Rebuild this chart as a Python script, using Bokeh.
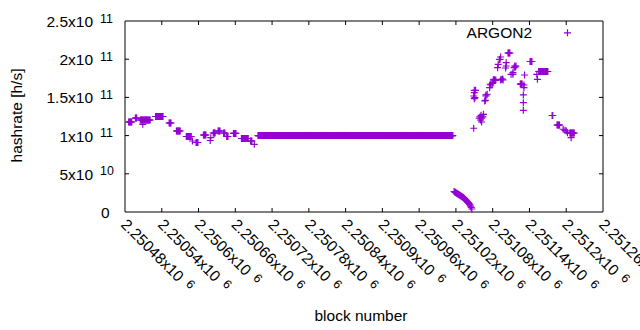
import math
import numpy as np
from bokeh.plotting import figure
from bokeh.models import Range1d, Label
from bokeh.embed import file_html
from bokeh.resources import INLINE

# ---------------- data ----------------
# runs of consecutive blocks that share one hashrate value
run_start = [2250486, 2250497, 2250505, 2250530, 2250552, 2250564, 2250580, 2250596,
             2250608, 2250624, 2250632, 2250641, 2250646, 2250657, 2250670, 2250685,
             2250697, 2251105, 2251125, 2251141, 2251155, 2251177, 2251185, 2251206]
run_end = [2250491, 2250499, 2250521, 2250542, 2250555, 2250570, 2250588, 2250599,
           2250612, 2250627, 2250635, 2250643, 2250648, 2250661, 2250681, 2250687,
           2251015, 2251108, 2251128, 2251144, 2251170, 2251178, 2251189, 2251213]
run_value = [1.178e11, 1.230e11, 1.204e11, 1.250e11, 1.165e11, 1.060e11, 0.988e11, 0.910e11,
             1.008e11, 1.034e11, 1.060e11, 1.034e11, 0.988e11, 1.028e11, 0.962e11, 0.929e11,
             1.000e11, 2.081e11, 1.675e11, 1.970e11, 1.839e11, 1.263e11, 1.139e11, 1.034e11]

# falling segment after the flat period
curve_block = list(range(2251017, 2251047))
curve_value = [2.68e10, 2.63e10, 2.58e10, 2.53e10, 2.47e10, 2.42e10, 2.37e10, 2.32e10,
               2.27e10, 2.21e10, 2.16e10, 2.11e10, 2.06e10, 2.01e10, 1.95e10, 1.90e10,
               1.82e10, 1.74e10, 1.65e10, 1.57e10, 1.49e10, 1.40e10, 1.32e10, 1.24e10,
               1.13e10, 1.02e10, 0.92e10, 0.75e10, 0.59e10, 0.39e10]

# individual blocks
single_block = [2250509, 2250590, 2250619, 2250620, 2250691,
                2251049, 2251049, 2251050, 2251050, 2251050, 2251051, 2251052,
                2251058, 2251059, 2251060, 2251061, 2251062, 2251062, 2251064, 2251065,
                2251067, 2251068, 2251069, 2251069, 2251071,
                2251075, 2251076, 2251077, 2251079, 2251080,
                2251081, 2251082, 2251083, 2251084, 2251085, 2251093, 2251094, 2251096, 2251097,
                2251088, 2251089, 2251091, 2251092, 2251093,
                2251101, 2251102, 2251102,
                2251110, 2251113, 2251113, 2251115, 2251116, 2251117, 2251118,
                2251130, 2251130, 2251130, 2251131, 2251131, 2251132,
                2251152, 2251153,
                2251195, 2251198, 2251200, 2251202, 2251208]
single_value = [1.148e11, 0.929e11, 0.936e11, 0.973e11, 0.886e11,
                1.096e11, 1.518e11, 1.483e11, 1.593e11, 1.562e11, 1.496e11, 1.593e11,
                1.227e11, 1.244e11, 1.204e11, 1.266e11, 1.178e11, 1.230e11, 1.244e11, 1.279e11,
                1.453e11, 1.462e11, 1.518e11, 1.532e11, 1.541e11,
                1.627e11, 1.672e11, 1.662e11, 1.682e11, 1.693e11,
                1.728e11, 1.735e11, 1.728e11, 1.722e11, 1.728e11, 1.728e11, 1.735e11, 1.741e11, 1.728e11,
                1.889e11, 1.933e11, 1.996e11, 1.999e11, 2.029e11,
                1.885e11, 1.954e11, 1.911e11,
                1.802e11, 1.823e11, 1.802e11, 1.889e11, 1.911e11, 1.898e11, 1.911e11,
                1.532e11, 1.431e11, 1.331e11, 1.662e11, 1.627e11, 1.793e11,
                1.802e11, 1.737e11,
                1.083e11, 1.069e11, 1.060e11, 1.038e11, 0.973e11]

series_name = "ARGON2"

x_tick_values = [2250480, 2250540, 2250600, 2250660, 2250720, 2250780, 2250840,
                 2250900, 2250960, 2251020, 2251080, 2251140, 2251200, 2251260]
x_tick_mantissa = ["2.25048", "2.25054", "2.2506", "2.25066", "2.25072", "2.25078", "2.25084",
                   "2.2509", "2.25096", "2.25102", "2.25108", "2.25114", "2.2512", "2.25126"]
x_tick_exponent = "6"

y_tick_values = [0, 5e10, 1e11, 1.5e11, 2e11, 2.5e11]
y_tick_mantissa = ["0", "5", "1", "1.5", "2", "2.5"]
y_tick_exponent = ["", "10", "11", "11", "11", "11"]

x_lo, x_hi = 2250480, 2251260
y_lo, y_hi = 0, 2.5e11

# ---------------- layout ----------------
W, H = 640, 330
FL, FR, FT, FB = 124.5, 602.5, 20.5, 211.5   # plot box edges in screen pixels
TICK = 4
COLOR = "#9400D3"
FONT = "Liberation Sans"
FS = 15.5
SUP = 12.4


def sx(px):
    return x_lo + (px - FL) * (x_hi - x_lo) / (FR - FL)


def sy(py):
    return y_lo + (FB - py) * (y_hi - y_lo) / (FB - FT)


def px_of(x):
    return FL + (x - x_lo) * (FR - FL) / (x_hi - x_lo)


def py_of(y):
    return FB - (y - y_lo) * (FB - FT) / (y_hi - y_lo)


CW = {".": 0.278, "x": 0.5}


def text_w(s, size):
    return sum(CW.get(c, 0.556) for c in s) * size


blocks = np.concatenate([np.arange(s, e + 1) for s, e in zip(run_start, run_end)]
                        + [np.array(curve_block), np.array(single_block)]).astype(float)
rates = np.concatenate([np.full(e - s + 1, v) for s, e, v in zip(run_start, run_end, run_value)]
                       + [np.array(curve_value), np.array(single_value)])

p = figure(width=W, height=H, output_backend="svg", toolbar_location=None,
           x_range=Range1d(sx(0), sx(W)), y_range=Range1d(sy(H), sy(0)),
           x_axis_type=None, y_axis_type=None, min_border=0)
p.min_border_left = p.min_border_right = p.min_border_top = p.min_border_bottom = 0
p.background_fill_color = "white"
p.border_fill_color = "white"
p.outline_line_color = None
p.grid.visible = False

# plot box
p.quad(left=[x_lo], right=[x_hi], bottom=[y_lo], top=[y_hi],
       fill_color=None, line_color="black", line_width=1)

# inward ticks on all four sides
dx_t = sx(FL + TICK) - sx(FL)
dy_t = sy(FB - TICK) - sy(FB)
xt = [t for t in x_tick_values if x_lo < t < x_hi]
yt = [t for t in y_tick_values if y_lo < t < y_hi]
p.segment(x0=xt + xt, y0=[y_lo] * len(xt) + [y_hi] * len(xt),
          x1=xt + xt, y1=[y_lo + dy_t] * len(xt) + [y_hi - dy_t] * len(xt),
          line_color="black", line_width=1)
p.segment(x0=[x_lo] * len(yt) + [x_hi] * len(yt), y0=yt + yt,
          x1=[x_lo + dx_t] * len(yt) + [x_hi - dx_t] * len(yt), y1=yt + yt,
          line_color="black", line_width=1)

# data
p.scatter(blocks, rates, marker="cross", size=7, line_color=COLOR, line_width=1.2)


def lab(px, py, text, size=FS, align="left", baseline="middle", angle=0.0):
    p.add_layout(Label(x=sx(px), y=sy(py), text=text, angle=angle, text_align=align,
                       text_baseline=baseline, text_font=FONT, text_font_size=f"{size}px",
                       text_color="black"))


# y tick labels
for v, m, e in zip(y_tick_values, y_tick_mantissa, y_tick_exponent):
    ty = py_of(v)
    if e:
        lab(92.5, ty + 0.5, m + "x10", align="right")
        lab(99.5, ty - 3, e, size=SUP)
    else:
        lab(109, ty + 0.5, m, align="right")

# x tick labels (rotated)
ang = -math.pi / 4
c = math.cos(math.pi / 4)
for t, m in zip(x_tick_values, x_tick_mantissa):
    ax_, ay_ = px_of(t) - 1, 221
    main = m + "x10"
    lab(ax_, ay_, main, baseline="alphabetic", angle=ang)
    d = text_w(main, FS) + 7
    lab(ax_ + c * d + c * 3, ay_ + c * d - c * 3, x_tick_exponent, size=SUP,
        baseline="alphabetic", angle=ang)

# axis titles
lab(15.5, 115, "hashrate [h/s]", align="center", angle=math.pi / 2)
lab(360.5, 315, "block number", align="center")

# legend
lab(531.5, 32.4, series_name, align="right")
p.scatter([sx(567)], [sy(32.3)], marker="cross", size=7, line_color=COLOR, line_width=1.2)

open("out.html", "w").write(file_html(p, INLINE))
